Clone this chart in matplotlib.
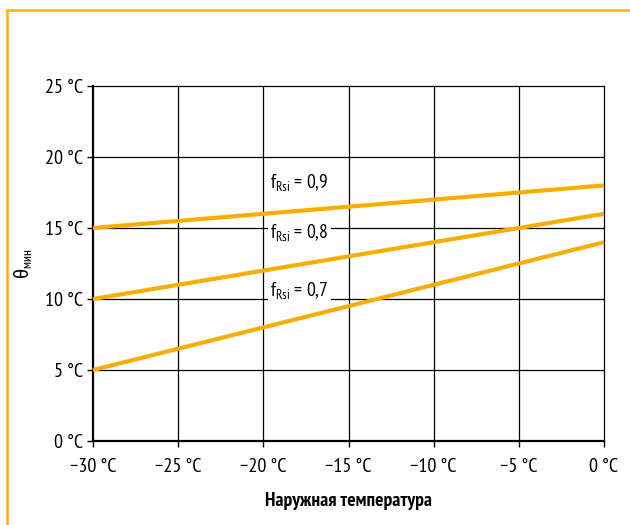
import matplotlib
matplotlib.use("Agg")
import matplotlib.pyplot as plt
from matplotlib.lines import Line2D

plt.rcParams["font.family"] = ["PT Sans Narrow", "DejaVu Sans"]
plt.rcParams["mathtext.fontset"] = "custom"
plt.rcParams["mathtext.rm"] = "PT Sans Narrow"
plt.rcParams["mathtext.it"] = "PT Sans Narrow"

ORANGE = "#F8AE00"
FRAME = "#F9B313"

# наружная температура и минимальная температура поверхности для трёх fRsi
outdoor = [-30, 0]
theta_09 = [15, 18]
theta_08 = [10, 16]
theta_07 = [5, 14]
f_labels = ["0,9", "0,8", "0,7"]
label_pos = [(-19.6, 18.2), (-19.6, 14.7), (-19.6, 10.6)]

x_ticks = [-30, -25, -20, -15, -10, -5, 0]
y_ticks = [0, 5, 10, 15, 20, 25]

fig = plt.figure(figsize=(6.3, 5.25), dpi=100)
ax = fig.add_axes([93 / 630, 1 - 441 / 525, 511 / 630, 355 / 525])

for xv in x_ticks[1:-1]:
    ax.axvline(xv, color="black", lw=0.9, zorder=1)
for yv in y_ticks[1:-1]:
    ax.axhline(yv, color="black", lw=0.9, zorder=1)

for ys in (theta_09, theta_08, theta_07):
    ax.plot(outdoor, ys, color=ORANGE, lw=3, solid_capstyle="butt", zorder=3, clip_on=False)

for lab, (tx, ty) in zip(f_labels, label_pos):
    ax.text(tx, ty, r"f$_{\mathrm{Rsi}}$ = " + lab, fontsize=14, ha="left", va="center",
            bbox=dict(facecolor="white", edgecolor="none", pad=1.5), zorder=4)

ax.set_xlim(-30, 0)
ax.set_ylim(0, 25)
ax.set_xticks(x_ticks)
ax.set_yticks(y_ticks)
ax.set_xticklabels(["\u221230\u2009°C", "\u221225\u2009°C", "\u221220\u2009°C", "\u221215\u2009°C",
                    "\u221210\u2009°C", "\u22125\u2009°C", "0\u2009°C"], fontsize=14.5)
ax.set_yticklabels([f"{v}\u2009°C" for v in y_ticks], fontsize=14.5)
ax.tick_params(direction="out", length=4, width=1, colors="black")
ax.tick_params(axis="x", pad=8)
ax.tick_params(axis="y", pad=3)

ax.spines["left"].set_linewidth(1.6)
ax.spines["bottom"].set_linewidth(1.6)
ax.spines["top"].set_linewidth(0.9)
ax.spines["right"].set_linewidth(0.9)

ax.set_xlabel("Наружная температура", fontsize=14, fontweight="bold", labelpad=12)
ax.set_ylabel(r"θ$_{\mathrm{мин}}$", fontsize=14, labelpad=8,
              family=["Fira Sans Condensed", "DejaVu Sans"])

# оранжевая рамка слева и сверху
fig.add_artist(Line2D([7 / 630, 7 / 630], [0, 1 - 10 / 525], transform=fig.transFigure,
                      color=FRAME, lw=1.8))
fig.add_artist(Line2D([7 / 630, 1], [1 - 10 / 525, 1 - 10 / 525], transform=fig.transFigure,
                      color=FRAME, lw=1.8))

fig.savefig("out.png", dpi=100)
